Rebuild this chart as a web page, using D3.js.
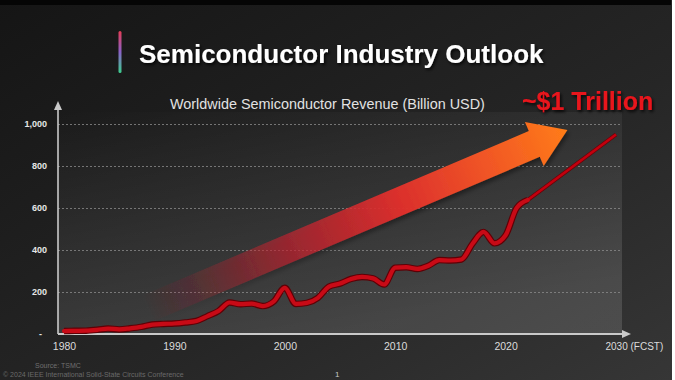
<!DOCTYPE html>
<html>
<head>
<meta charset="utf-8">
<script src="https://cdn.jsdelivr.net/npm/d3@7"></script>
<style>
  html, body { margin: 0; padding: 0; background: #fff; }
  svg { display: block; font-family: "Liberation Sans", Arial, sans-serif; }
</style>
</head>
<body>
<div id="chart"></div>
<script>
// revenue, billion USD
var years = [1980, 1981, 1982, 1983, 1984, 1985, 1986, 1987, 1988, 1989,
             1990, 1991, 1992, 1993, 1994, 1995, 1996, 1997, 1998, 1999,
             2000, 2001, 2002, 2003, 2004, 2005, 2006, 2007, 2008, 2009,
             2010, 2011, 2012, 2013, 2014, 2015, 2016, 2017, 2018, 2019,
             2020, 2021, 2022];
var revenue = [14, 15, 16, 20, 26, 22, 27, 34, 45, 48,
               50, 55, 62, 85, 110, 150, 142, 145, 133, 155,
               220, 143, 148, 172, 226, 240, 262, 272, 265, 236,
               316, 318, 310, 325, 352, 350, 355, 430, 486, 432,
               470, 600, 638];
var forecastYears = [2022, 2030];
var forecastRevenue = [638, 950];

var yTicks = [0, 200, 400, 600, 800, 1000];
var xTicks = [1980, 1990, 2000, 2010, 2020, 2030];

// big trend arrow, tail and tip in data units
var arrowFrom = [1987.5, 120];
var arrowTo = [2025.6, 972];

var width = 675;
var height = 380;

var svg = d3.select("#chart")
    .append("svg")
    .attr("width", width)
    .attr("height", height);

var defs = svg.append("defs");

var bg = defs.append("linearGradient").attr("id", "bg")
    .attr("x1", "0").attr("y1", "0").attr("x2", "1").attr("y2", "1");
bg.append("stop").attr("offset", "0").attr("stop-color", "#151515");
bg.append("stop").attr("offset", "0.6").attr("stop-color", "#262626");
bg.append("stop").attr("offset", "1").attr("stop-color", "#363636");

var panel = defs.append("linearGradient").attr("id", "panel")
    .attr("x1", "0").attr("y1", "0").attr("x2", "0.45").attr("y2", "1");
panel.append("stop").attr("offset", "0").attr("stop-color", "#ffffff").attr("stop-opacity", 0);
panel.append("stop").attr("offset", "1").attr("stop-color", "#ffffff").attr("stop-opacity", 0.13);

var bar = defs.append("linearGradient").attr("id", "bar")
    .attr("x1", "0").attr("y1", "0").attr("x2", "0").attr("y2", "1");
bar.append("stop").attr("offset", "0").attr("stop-color", "#e63c55");
bar.append("stop").attr("offset", "0.5").attr("stop-color", "#8a62c8");
bar.append("stop").attr("offset", "1").attr("stop-color", "#3ccf8e");

var shadow = defs.append("filter").attr("id", "shadow")
    .attr("x", "-10%").attr("y", "-10%").attr("width", "130%").attr("height", "140%");
shadow.append("feDropShadow").attr("dx", 1.5).attr("dy", 2)
    .attr("stdDeviation", 1.5).attr("flood-color", "#000").attr("flood-opacity", 0.8);

// slide background
svg.append("rect").attr("width", 672).attr("height", height).attr("fill", "url(#bg)");
svg.append("rect").attr("width", 671).attr("height", 5).attr("fill", "#050505");

var x = d3.scaleLinear().domain([1980, 2030]).range([64, 616]);
var y = d3.scaleLinear().domain([0, 1000]).range([334, 124]);

var left = 58, right = 622;

svg.append("rect")
    .attr("x", left).attr("y", 112)
    .attr("width", right - left).attr("height", y(0) - 112)
    .attr("fill", "url(#panel)");

// title
svg.append("rect").attr("x", 118.5).attr("y", 31).attr("width", 3).attr("height", 42)
    .attr("rx", 1.5).attr("fill", "url(#bar)");
svg.append("text")
    .attr("x", 139).attr("y", 63)
    .attr("fill", "#ffffff")
    .attr("font-size", 26).attr("font-weight", "bold")
    .attr("filter", "url(#shadow)")
    .text("Semiconductor Industry Outlook");

svg.append("text")
    .attr("x", 170).attr("y", 109)
    .attr("fill", "#e2e2e2")
    .attr("font-size", 14.4)
    .text("Worldwide Semiconductor Revenue (Billion USD)");

// gridlines
svg.append("g")
    .attr("transform", "translate(" + left + ",0)")
    .call(d3.axisLeft(y).tickValues(yTicks.slice(1)).tickSize(-(right - left)).tickFormat(""))
    .call(function(g) { g.select(".domain").remove(); })
    .selectAll("line")
    .attr("stroke", "#8a8a8a")
    .attr("stroke-dasharray", "2,2")
    .attr("stroke-width", 0.8);

// y tick labels
svg.append("g")
    .attr("transform", "translate(47,0)")
    .call(d3.axisLeft(y).tickValues(yTicks).tickSize(0)
        .tickFormat(function(d) { return d === 0 ? "-" : d3.format(",")(d); }))
    .call(function(g) { g.select(".domain").remove(); })
    .selectAll("text")
    .attr("x", function(d) { return d === 0 ? -5 : 0; })
    .attr("fill", "#e6e6e6")
    .attr("font-size", 9)
    .attr("font-weight", "bold")
    .attr("font-family", "Liberation Sans, Arial, sans-serif");

// x tick labels
svg.append("g")
    .attr("transform", "translate(0," + y(0) + ")")
    .call(d3.axisBottom(x).tickValues(xTicks).tickSize(0)
        .tickFormat(function(d) { return d === 2030 ? "2030 (FCST)" : d; }))
    .call(function(g) { g.select(".domain").remove(); })
    .selectAll("text")
    .attr("y", 9)
    .attr("text-anchor", function(d) { return d === 2030 ? "start" : "middle"; })
    .attr("dx", function(d) { return d === 2030 ? -11 : 0; })
    .attr("fill", "#dcdcdc")
    .attr("font-size", function(d) { return d === 2030 ? 10 : 10.5; })
    .attr("font-family", "Liberation Sans, Arial, sans-serif");

// axis lines with arrowheads
var axisColor = "#c9c9c9";
svg.append("line")
    .attr("x1", left).attr("y1", y(0)).attr("x2", left).attr("y2", 108)
    .attr("stroke", axisColor).attr("stroke-width", 1.6);
svg.append("path")
    .attr("d", "M" + (left - 4) + ",110L" + left + ",101L" + (left + 4) + ",110Z")
    .attr("fill", axisColor);
svg.append("line")
    .attr("x1", left).attr("y1", y(0)).attr("x2", 624).attr("y2", y(0))
    .attr("stroke", axisColor).attr("stroke-width", 1.8);
svg.append("path")
    .attr("d", "M622," + (y(0) - 4) + "L631," + y(0) + "L622," + (y(0) + 4) + "Z")
    .attr("fill", axisColor);

// trend arrow
var p0 = [x(arrowFrom[0]), y(arrowFrom[1])];
var p1 = [x(arrowTo[0]), y(arrowTo[1])];
var dxA = p1[0] - p0[0], dyA = p1[1] - p0[1];
var len = Math.sqrt(dxA * dxA + dyA * dyA);
var ux = dxA / len, uy = dyA / len;
var nx = -uy, ny = ux;
var shaftHalf = 14, headLen = 36, headHalf = 24;
var hb = [p1[0] - ux * headLen, p1[1] - uy * headLen];
function pt(base, n) { return [base[0] + nx * n, base[1] + ny * n]; }
var arrowPts = [pt(p0, shaftHalf), pt(hb, shaftHalf), pt(hb, headHalf), p1,
                pt(hb, -headHalf), pt(hb, -shaftHalf), pt(p0, -shaftHalf)];

var ag = defs.append("linearGradient").attr("id", "arrowGrad")
    .attr("gradientUnits", "userSpaceOnUse")
    .attr("x1", p0[0]).attr("y1", p0[1]).attr("x2", p1[0]).attr("y2", p1[1]);
[[0, "#c81c2a", 0], [0.12, "#cc1e2c", 0.15], [0.35, "#d42230", 0.6],
 [0.6, "#e2302c", 0.95], [0.8, "#f05426", 1], [1, "#ff7c18", 1]].forEach(function(s) {
    ag.append("stop").attr("offset", s[0]).attr("stop-color", s[1]).attr("stop-opacity", s[2]);
});

var arrowShadow = defs.append("filter").attr("id", "arrowShadow")
    .attr("x", "-10%").attr("y", "-20%").attr("width", "130%").attr("height", "150%");
arrowShadow.append("feDropShadow").attr("dx", 2).attr("dy", 3)
    .attr("stdDeviation", 2).attr("flood-color", "#000").attr("flood-opacity", 0.4);

svg.append("path")
    .attr("d", d3.line()(arrowPts) + "Z")
    .attr("fill", "url(#arrowGrad)")
    .attr("filter", "url(#arrowShadow)");

// revenue line
var histPts = years.map(function(yr, i) { return [yr, revenue[i]]; });
var fcstPts = forecastYears.map(function(yr, i) { return [yr, forecastRevenue[i]]; });

var line = d3.line()
    .x(function(d) { return x(d[0]); })
    .y(function(d) { return y(d[1]); })
    .curve(d3.curveMonotoneX);

svg.append("path")
    .datum(fcstPts)
    .attr("d", line)
    .attr("fill", "none")
    .attr("stroke", "#6a0006")
    .attr("stroke-width", 4);
svg.append("path")
    .datum(fcstPts)
    .attr("d", line)
    .attr("fill", "none")
    .attr("stroke", "#c2000e")
    .attr("stroke-width", 2.6);

svg.append("path")
    .datum(histPts)
    .attr("d", line)
    .attr("fill", "none")
    .attr("stroke", "#5e0006")
    .attr("stroke-width", 6.5)
    .attr("stroke-linejoin", "round");
svg.append("path")
    .datum(histPts)
    .attr("d", line)
    .attr("fill", "none")
    .attr("stroke", "#c80a16")
    .attr("stroke-width", 4.2)
    .attr("stroke-linejoin", "round")
    .attr("stroke-linecap", "round");

// callout
svg.append("text")
    .attr("x", 522).attr("y", 110)
    .attr("fill", "#e8141c")
    .attr("font-size", 25).attr("font-weight", "bold")
    .attr("filter", "url(#shadow)")
    .text("~$1 Trillion");

// footer
svg.append("text").attr("x", 35).attr("y", 368)
    .attr("fill", "#6f6f6f").attr("font-size", 7).text("Source: TSMC");
svg.append("text").attr("x", 3).attr("y", 377)
    .attr("fill", "#6a6a6a").attr("font-size", 7)
    .text("\u00a9 2024 IEEE International Solid-State Circuits Conference");
svg.append("text").attr("x", 335).attr("y", 377)
    .attr("fill", "#c8c8c8").attr("font-size", 8).text("1");
</script>
</body>
</html>
